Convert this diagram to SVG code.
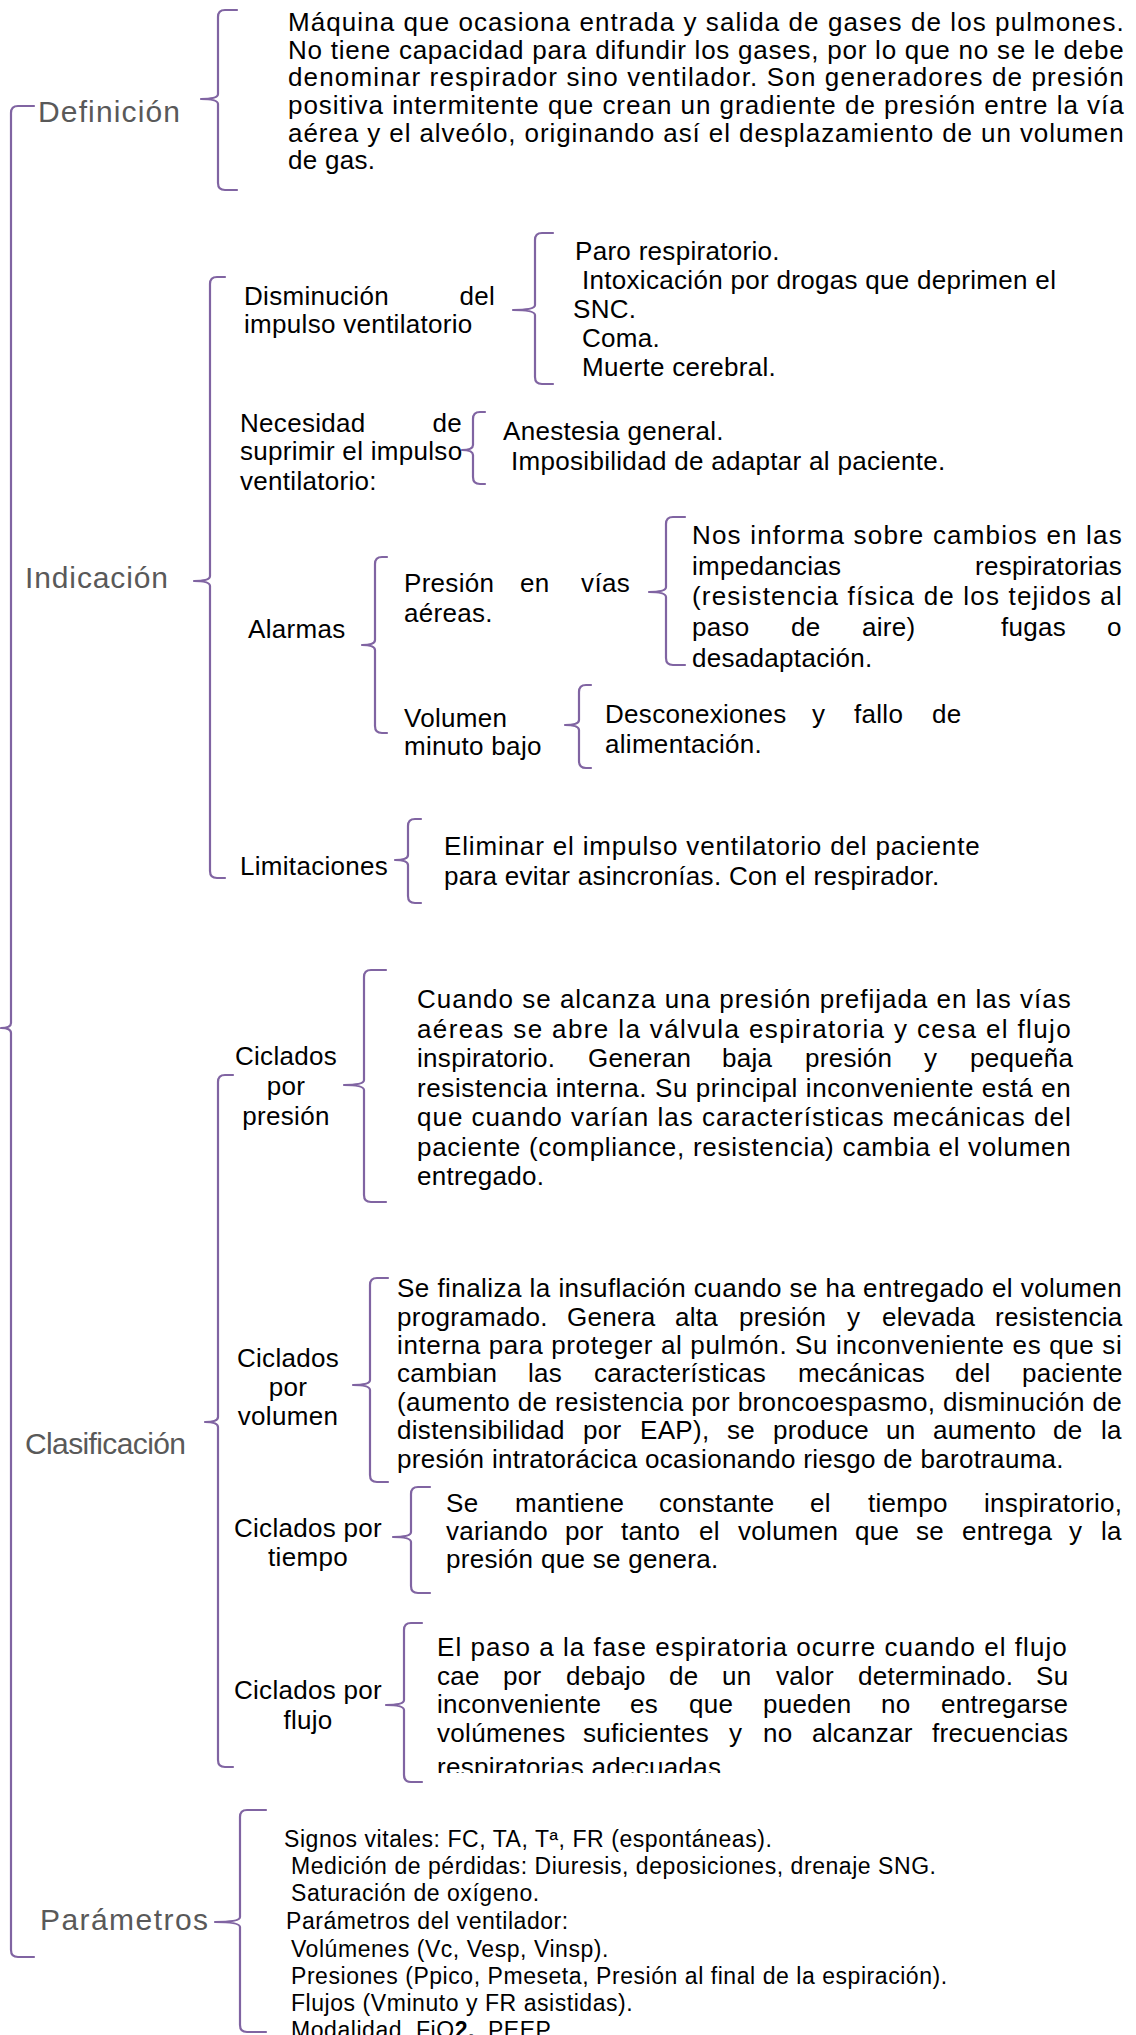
<svg xmlns="http://www.w3.org/2000/svg" width="1136" height="2035" viewBox="0 0 1136 2035">
<style>
.t{font-family:"Liberation Sans",Arial,sans-serif;font-size:26px;letter-spacing:0.3px;fill:#000}
.p{font-family:"Liberation Sans",Arial,sans-serif;font-size:23px;letter-spacing:0.55px;fill:#000}
.h{font-family:"Liberation Sans",Arial,sans-serif;font-size:30px;fill:#595959}
.m{text-anchor:middle}
.e{text-anchor:end}
.br{fill:none;stroke:#8064A2;stroke-width:2.2;stroke-linecap:round;stroke-linejoin:round}
</style>
<defs>
<clipPath id="clipEntregado"><rect x="400" y="1150" width="400" height="40"/></clipPath>
<clipPath id="clipFlujo"><rect x="420" y="1740" width="500" height="33"/></clipPath>
</defs>
<rect width="1136" height="2035" fill="#fff"/>

<g id="connectors">
<path class="br" d="M34,106 L18,106 Q11,106 11,113 L11,1023 Q11,1028 1,1028 Q11,1028 11,1033 L11,1950 Q11,1957 18,1957 L34,1957"/>
<path class="br" d="M237,10 L225,10 Q218,10 218,17 L218,94 Q218,99 201,99 Q218,99 218,104 L218,183 Q218,190 225,190 L237,190"/>
<path class="br" d="M225,277 L217,277 Q210,277 210,284 L210,576 Q210,581 194,581 Q210,581 210,586 L210,871 Q210,878 217,878 L225,878"/>
<path class="br" d="M553,233 L542,233 Q535,233 535,240 L535,305 Q535,310 513,310 Q535,310 535,315 L535,377 Q535,384 542,384 L553,384"/>
<path class="br" d="M485,412 L480,412 Q473,412 473,419 L473,445 Q473,450 462,450 Q473,450 473,455 L473,477 Q473,484 480,484 L485,484"/>
<path class="br" d="M685,517 L673,517 Q666,517 666,524 L666,587 Q666,592 649,592 Q666,592 666,597 L666,658 Q666,665 673,665 L685,665"/>
<path class="br" d="M387,557 L382,557 Q375,557 375,564 L375,640 Q375,645 362,645 Q375,645 375,650 L375,726 Q375,733 382,733 L387,733"/>
<path class="br" d="M591,685 L586,685 Q579,685 579,692 L579,720 Q579,725 565,725 Q579,725 579,730 L579,761 Q579,768 586,768 L591,768"/>
<path class="br" d="M421,819 L415,819 Q408,819 408,826 L408,855 Q408,860 395,860 Q408,860 408,865 L408,896 Q408,903 415,903 L421,903"/>
<path class="br" d="M233,1075 L225,1075 Q218,1075 218,1082 L218,1417 Q218,1422 205,1422 Q218,1422 218,1427 L218,1760 Q218,1767 225,1767 L233,1767"/>
<path class="br" d="M386,970 L371,970 Q364,970 364,977 L364,1080 Q364,1085 344,1085 Q364,1085 364,1090 L364,1195 Q364,1202 371,1202 L386,1202"/>
<path class="br" d="M388,1278 L377,1278 Q370,1278 370,1285 L370,1380 Q370,1385 353,1385 Q370,1385 370,1390 L370,1475 Q370,1482 377,1482 L388,1482"/>
<path class="br" d="M430,1487 L418,1487 Q411,1487 411,1494 L411,1532 Q411,1537 393,1537 Q411,1537 411,1542 L411,1586 Q411,1593 418,1593 L430,1593"/>
<path class="br" d="M422,1623 L411,1623 Q404,1623 404,1630 L404,1700 Q404,1705 386,1705 Q404,1705 404,1710 L404,1775 Q404,1782 411,1782 L422,1782"/>
<path class="br" d="M266,1810 L247,1810 Q240,1810 240,1817 L240,1917 Q240,1922 215,1922 Q240,1922 240,1927 L240,2025 Q240,2032 247,2032 L266,2032"/>
</g>

<g id="definicion"><text class="h" x="38" y="122" textLength="142" lengthAdjust="spacing">Definición</text></g>
<g id="definicion-texto">
<text class="t" x="288" y="31" textLength="836" lengthAdjust="spacing">Máquina que ocasiona entrada y salida de gases de los pulmones.</text>
<text class="t" x="288" y="58.5" textLength="836" lengthAdjust="spacing">No tiene capacidad para difundir los gases, por lo que no se le debe</text>
<text class="t" x="288" y="86" textLength="836" lengthAdjust="spacing">denominar respirador sino ventilador. Son generadores de presión</text>
<text class="t" x="288" y="113.5" textLength="836" lengthAdjust="spacing">positiva intermitente que crean un gradiente de presión entre la vía</text>
<text class="t" x="288" y="141.5" textLength="836" lengthAdjust="spacing">aérea y el alveólo, originando así el desplazamiento de un volumen</text>
<text class="t" x="288" y="169">de gas.</text>
</g>

<g id="indicacion"><text class="h" x="25" y="588" textLength="143" lengthAdjust="spacing">Indicación</text></g>

<g id="disminucion">
<text class="t" x="244" y="305">Disminución</text>
<text class="t e" x="495" y="305">del</text>
<text class="t" x="244" y="333">impulso ventilatorio</text>
</g>
<g id="disminucion-lista">
<text class="t" x="575" y="260">Paro respiratorio.</text>
<text class="t" x="582" y="289">Intoxicación por drogas que deprimen el</text>
<text class="t" x="573" y="318">SNC.</text>
<text class="t" x="582" y="347">Coma.</text>
<text class="t" x="582" y="376">Muerte cerebral.</text>
</g>

<g id="necesidad">
<text class="t" x="240" y="432">Necesidad</text>
<text class="t e" x="462" y="432">de</text>
<text class="t" x="240" y="460">suprimir el impulso</text>
<text class="t" x="240" y="490">ventilatorio:</text>
</g>
<g id="necesidad-lista">
<text class="t" x="503" y="440">Anestesia general.</text>
<text class="t" x="511" y="470">Imposibilidad de adaptar al paciente.</text>
</g>

<g id="alarmas"><text class="t" x="248" y="638">Alarmas</text></g>

<g id="presion-vias">
<text class="t" x="404" y="592">Presión</text>
<text class="t" x="520" y="592">en</text>
<text class="t e" x="630" y="592">vías</text>
<text class="t" x="404" y="622">aéreas.</text>
</g>
<g id="presion-vias-texto">
<text class="t" x="692" y="544" textLength="430" lengthAdjust="spacing">Nos informa sobre cambios en las</text>
<text class="t" x="692" y="575">impedancias</text>
<text class="t e" x="1122" y="575">respiratorias</text>
<text class="t" x="692" y="605" textLength="430" lengthAdjust="spacing">(resistencia física de los tejidos al</text>
<text class="t" y="636"><tspan x="692">paso</tspan><tspan x="791">de</tspan><tspan x="862">aire)</tspan><tspan x="1001">fugas</tspan><tspan x="1107">o</tspan></text>
<text class="t" x="692" y="667">desadaptación.</text>
</g>

<g id="volumen-minuto">
<text class="t" x="404" y="727">Volumen</text>
<text class="t" x="404" y="755">minuto bajo</text>
</g>
<g id="volumen-minuto-texto">
<text class="t" y="723"><tspan x="605">Desconexiones</tspan><tspan x="812">y</tspan><tspan x="854">fallo</tspan><tspan x="932">de</tspan></text>
<text class="t" x="605" y="753">alimentación.</text>
</g>

<g id="limitaciones"><text class="t" x="240" y="875">Limitaciones</text></g>
<g id="limitaciones-texto">
<text class="t" x="444" y="855" textLength="536" lengthAdjust="spacing">Eliminar el impulso ventilatorio del paciente</text>
<text class="t" x="444" y="885">para evitar asincronías. Con el respirador.</text>
</g>

<g id="clasificacion"><text class="h" x="25" y="1454" textLength="161" lengthAdjust="spacing">Clasificación</text></g>

<g id="ciclados-presion">
<text class="t m" x="286" y="1065">Ciclados</text>
<text class="t m" x="286" y="1095">por</text>
<text class="t m" x="286" y="1125">presión</text>
</g>
<g id="ciclados-presion-texto">
<text class="t" x="417" y="1008" textLength="654" lengthAdjust="spacing">Cuando se alcanza una presión prefijada en las vías</text>
<text class="t" x="417" y="1037.5" textLength="654" lengthAdjust="spacing">aéreas se abre la válvula espiratoria y cesa el flujo</text>
<text class="t" y="1067"><tspan x="417">inspiratorio.</tspan><tspan x="588">Generan</tspan><tspan x="722">baja</tspan><tspan x="805">presión</tspan><tspan x="924">y</tspan><tspan x="970">pequeña</tspan></text>
<text class="t" x="417" y="1096.5" textLength="654" lengthAdjust="spacing">resistencia interna. Su principal inconveniente está en</text>
<text class="t" x="417" y="1126" textLength="654" lengthAdjust="spacing">que cuando varían las características mecánicas del</text>
<text class="t" x="417" y="1155.5" textLength="654" lengthAdjust="spacing">paciente (compliance, resistencia) cambia el volumen</text>
<text class="t" x="417" y="1185" clip-path="url(#clipEntregado)">entregado.</text>
</g>

<g id="ciclados-volumen">
<text class="t m" x="288" y="1367">Ciclados</text>
<text class="t m" x="288" y="1396">por</text>
<text class="t m" x="288" y="1425">volumen</text>
</g>
<g id="ciclados-volumen-texto">
<text class="t" x="397" y="1297" textLength="725" lengthAdjust="spacing">Se finaliza la insuflación cuando se ha entregado el volumen</text>
<text class="t" y="1325.5"><tspan x="397">programado.</tspan><tspan x="567">Genera</tspan><tspan x="675">alta</tspan><tspan x="739">presión</tspan><tspan x="847">y</tspan><tspan x="882">elevada</tspan><tspan x="995">resistencia</tspan></text>
<text class="t" x="397" y="1354" textLength="725" lengthAdjust="spacing">interna para proteger al pulmón. Su inconveniente es que si</text>
<text class="t" y="1382"><tspan x="397">cambian</tspan><tspan x="528">las</tspan><tspan x="594">características</tspan><tspan x="798">mecánicas</tspan><tspan x="955">del</tspan><tspan x="1022">paciente</tspan></text>
<text class="t" x="397" y="1410.5" textLength="725" lengthAdjust="spacing">(aumento de resistencia por broncoespasmo, disminución de</text>
<text class="t" y="1439"><tspan x="397">distensibilidad</tspan><tspan x="583">por</tspan><tspan x="640">EAP),</tspan><tspan x="727">se</tspan><tspan x="773">produce</tspan><tspan x="886">un</tspan><tspan x="933">aumento</tspan><tspan x="1053">de</tspan><tspan x="1101">la</tspan></text>
<text class="t" x="397" y="1468">presión intratorácica ocasionando riesgo de barotrauma.</text>
</g>

<g id="ciclados-tiempo">
<text class="t m" x="308" y="1537">Ciclados por</text>
<text class="t m" x="308" y="1566">tiempo</text>
</g>
<g id="ciclados-tiempo-texto">
<text class="t" y="1512"><tspan x="446">Se</tspan><tspan x="515">mantiene</tspan><tspan x="659">constante</tspan><tspan x="810">el</tspan><tspan x="868">tiempo</tspan><tspan x="984">inspiratorio,</tspan></text>
<text class="t" y="1540"><tspan x="446">variando</tspan><tspan x="565">por</tspan><tspan x="621">tanto</tspan><tspan x="699">el</tspan><tspan x="738">volumen</tspan><tspan x="855">que</tspan><tspan x="916">se</tspan><tspan x="962">entrega</tspan><tspan x="1069">y</tspan><tspan x="1101">la</tspan></text>
<text class="t" x="446" y="1568">presión que se genera.</text>
</g>

<g id="ciclados-flujo">
<text class="t m" x="308" y="1699">Ciclados por</text>
<text class="t m" x="308" y="1729">flujo</text>
</g>
<g id="ciclados-flujo-texto">
<text class="t" x="437" y="1656" textLength="630" lengthAdjust="spacing">El paso a la fase espiratoria ocurre cuando el flujo</text>
<text class="t" y="1684.5"><tspan x="437">cae</tspan><tspan x="503">por</tspan><tspan x="566">debajo</tspan><tspan x="669">de</tspan><tspan x="722">un</tspan><tspan x="776">valor</tspan><tspan x="858">determinado.</tspan><tspan x="1036">Su</tspan></text>
<text class="t" y="1713"><tspan x="437">inconveniente</tspan><tspan x="630">es</tspan><tspan x="689">que</tspan><tspan x="763">pueden</tspan><tspan x="881">no</tspan><tspan x="941">entregarse</tspan></text>
<text class="t" y="1741.5"><tspan x="437">volúmenes</tspan><tspan x="583">suficientes</tspan><tspan x="729">y</tspan><tspan x="763">no</tspan><tspan x="812">alcanzar</tspan><tspan x="932">frecuencias</tspan></text>
<text class="t" x="437" y="1776" clip-path="url(#clipFlujo)">respiratorias adecuadas.</text>
</g>

<g id="parametros"><text class="h" x="40" y="1930" textLength="168" lengthAdjust="spacing">Parámetros</text></g>
<g id="parametros-lista">
<text class="p" x="284" y="1847">Signos vitales: FC, TA, Tª, FR (espontáneas).</text>
<text class="p" x="291" y="1874">Medición de pérdidas: Diuresis, deposiciones, drenaje SNG.</text>
<text class="p" x="291" y="1901">Saturación de oxígeno.</text>
<text class="p" x="286" y="1929">Parámetros del ventilador:</text>
<text class="p" x="291" y="1957">Volúmenes (Vc, Vesp, Vinsp).</text>
<text class="p" x="291" y="1984">Presiones (Ppico, Pmeseta, Presión al final de la espiración).</text>
<text class="p" x="291" y="2011">Flujos (Vminuto y FR asistidas).</text>
<text class="p" x="291" y="2038">Modalidad. FiO<tspan font-weight="bold">2.</tspan><tspan dx="6"> PEEP</tspan></text>
</g>
</svg>
